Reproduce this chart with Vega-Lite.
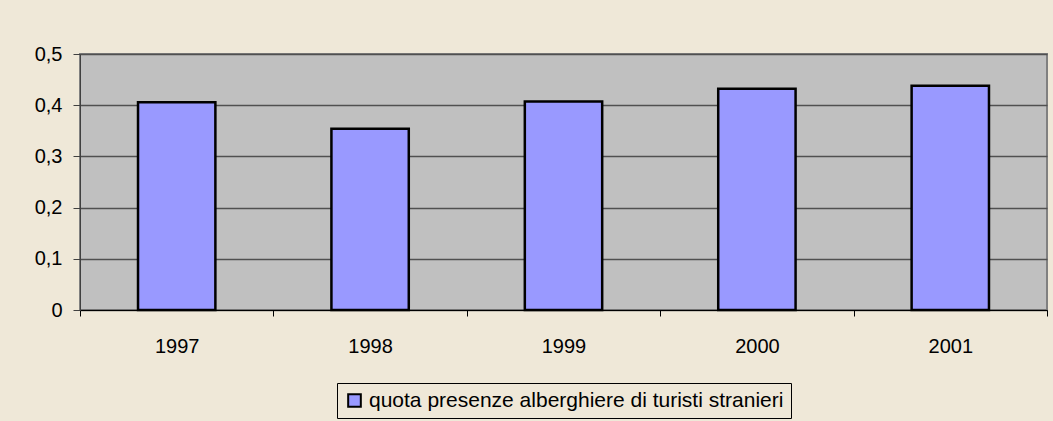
{
  "$schema": "https://vega.github.io/schema/vega-lite/v6.json",
  "width": 967,
  "height": 256,
  "autosize": {"type": "none"},
  "padding": {"left": 80, "top": 54, "right": 6, "bottom": 111},
  "background": "#EFE8D8",
  "data": {
    "values": [
      {"anno": "1997", "quota": 0.406, "serie": "quota presenze alberghiere di turisti stranieri"},
      {"anno": "1998", "quota": 0.354, "serie": "quota presenze alberghiere di turisti stranieri"},
      {"anno": "1999", "quota": 0.407, "serie": "quota presenze alberghiere di turisti stranieri"},
      {"anno": "2000", "quota": 0.432, "serie": "quota presenze alberghiere di turisti stranieri"},
      {"anno": "2001", "quota": 0.438, "serie": "quota presenze alberghiere di turisti stranieri"}
    ]
  },
  "mark": {"type": "bar", "stroke": "black", "strokeWidth": 2.5, "width": {"band": 0.4}},
  "encoding": {
    "x": {
      "field": "anno",
      "type": "nominal",
      "scale": {"paddingInner": 0, "paddingOuter": 0},
      "axis": {
        "title": null,
        "labelAngle": 0,
        "tickBand": "extent",
        "tickSize": 6,
        "tickColor": "#000000",
        "domainColor": "#000000",
        "labelPadding": 20,
        "labelFontSize": 20,
        "labelColor": "#000000"
      }
    },
    "y": {
      "field": "quota",
      "type": "quantitative",
      "scale": {"domain": [0, 0.5], "nice": false},
      "axis": {
        "title": null,
        "values": [0, 0.1, 0.2, 0.3, 0.4, 0.5],
        "labelExpr": "replace(format(datum.value, '.1~f'), '.', ',')",
        "tickSize": 7,
        "tickColor": "#404040",
        "domainColor": "#404040",
        "labelPadding": 11,
        "labelFontSize": 20,
        "labelColor": "#000000",
        "grid": true,
        "gridColor": "#505050",
        "gridWidth": 1.5
      }
    },
    "color": {
      "field": "serie",
      "type": "nominal",
      "scale": {"range": ["#9999FF"]},
      "legend": {
        "title": null,
        "orient": "bottom",
        "offset": 27,
        "symbolType": "square",
        "symbolSize": 160,
        "symbolStrokeColor": "#000000",
        "symbolStrokeWidth": 2,
        "symbolOpacity": 1,
        "labelFontSize": 21,
        "labelLimit": 800,
        "labelColor": "#000000",
        "labelOffset": 4,
        "padding": 7,
        "strokeColor": "#000000"
      }
    }
  },
  "config": {
    "font": "Liberation Sans",
    "view": {"fill": "#C0C0C0", "stroke": "#808080", "strokeWidth": 2},
    "axis": {"labelFont": "Liberation Sans"},
    "legend": {"labelFont": "Liberation Sans", "layout": {"bottom": {"anchor": "middle"}}}
  }
}
